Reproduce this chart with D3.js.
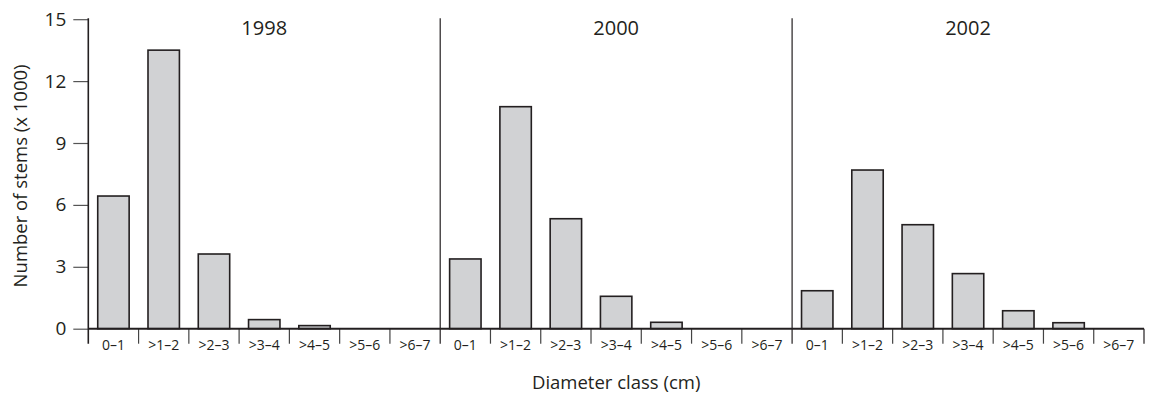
<!DOCTYPE html>
<html>
<head>
  <meta charset="utf-8">
  <title>Number of stems by diameter class</title>
  <style>
    body { margin: 0; background: #fff; }
    text { font-family: "Open Sans", "Noto Sans", sans-serif; fill: #231f20; }
  </style>
</head>
<body>
  <script src="https://cdn.jsdelivr.net/npm/d3@7"></script>
  <script>
    // data (stems x 1000)
    var years = ["1998", "2000", "2002"];
    var classes = ["0–1", ">1–2", ">2–3", ">3–4", ">4–5", ">5–6", ">6–7"];
    var stems1998 = [6.43, 13.5, 3.62, 0.44, 0.15, 0, 0];
    var stems2000 = [3.38, 10.76, 5.33, 1.57, 0.31, 0, 0];
    var stems2002 = [1.84, 7.69, 5.04, 2.67, 0.87, 0.29, 0];
    var yTicks = [0, 3, 6, 9, 12, 15];

    var width = 1149;
    var height = 398;
    var plotLeft = 88.3, plotRight = 1144;
    var plotTop = 19.2, plotBottom = 328.7;
    var ink = "#231f20";

    var series = [stems1998, stems2000, stems2002];
    var data = [];
    years.forEach(function(yr, i) {
      classes.forEach(function(c, j) {
        data.push({ year: yr, cls: c, value: series[i][j] });
      });
    });

    // scales: outer band per year panel, inner band per diameter class
    var xYear = d3.scaleBand().domain(years).range([plotLeft, plotRight]).padding(0);
    var xClass = d3.scaleBand().domain(classes).range([0, xYear.bandwidth()])
      .paddingInner(0.375).paddingOuter(0.1875);
    var y = d3.scaleLinear().domain([0, 15]).range([plotBottom, plotTop]);

    var svg = d3.select("body").append("svg")
      .attr("width", width)
      .attr("height", height);

    // y axis ticks + labels
    var yAxis = d3.axisLeft(y).tickValues(yTicks).tickSize(15).tickPadding(7).tickSizeOuter(0);
    var gy = svg.append("g")
      .attr("transform", "translate(" + plotLeft + ",0)")
      .call(yAxis);
    gy.select(".domain").remove();
    gy.selectAll(".tick line").attr("stroke", "#555").attr("stroke-width", 1.2);
    gy.selectAll(".tick text")
      .attr("font-size", "19px")
      .attr("fill", ink)
      .style("font-family", "'Open Sans', sans-serif");

    // class boundary ticks below baseline
    var panels = svg.selectAll(".panel")
      .data(years)
      .enter().append("g")
      .attr("class", "panel")
      .attr("transform", function(d) { return "translate(" + xYear(d) + ",0)"; });

    panels.selectAll(".sep")
      .data(d3.range(1, classes.length))
      .enter().append("line")
      .attr("x1", function(k) { return k * xClass.step(); })
      .attr("x2", function(k) { return k * xClass.step(); })
      .attr("y1", plotBottom)
      .attr("y2", plotBottom + 15)
      .attr("stroke", "#444")
      .attr("stroke-width", 1.2);

    // panel boundaries (full height, incl. y axis)
    var bounds = years.map(function(d) { return xYear(d); }).concat([plotRight]);
    svg.selectAll(".bound")
      .data(bounds)
      .enter().append("line")
      .attr("x1", function(d) { return d; })
      .attr("x2", function(d) { return d; })
      .attr("y1", function(d, i) { return (i === bounds.length - 1) ? plotBottom : plotTop - 1; })
      .attr("y2", plotBottom + 15)
      .attr("stroke", ink)
      .attr("stroke-width", function(d, i) { return i === 0 ? 1.6 : 1.2; });

    // bars
    svg.selectAll(".bar")
      .data(data.filter(function(d) { return d.value > 0; }))
      .enter().append("rect")
      .attr("class", "bar")
      .attr("x", function(d) { return xYear(d.year) + xClass(d.cls); })
      .attr("y", function(d) { return y(d.value); })
      .attr("width", xClass.bandwidth())
      .attr("height", function(d) { return y(0) - y(d.value); })
      .attr("fill", "#d1d2d4")
      .attr("stroke", ink)
      .attr("stroke-width", 1.6);

    // baseline
    svg.append("line")
      .attr("x1", plotLeft).attr("x2", plotRight)
      .attr("y1", y(0)).attr("y2", y(0))
      .attr("stroke", ink)
      .attr("stroke-width", 2);

    // class labels
    panels.selectAll(".cls")
      .data(classes)
      .enter().append("text")
      .attr("x", function(d) { return xClass(d) + xClass.bandwidth() / 2; })
      .attr("y", plotBottom + 21.5)
      .attr("text-anchor", "middle")
      .attr("font-size", "14px")
      .text(function(d) { return d; });

    // panel titles
    panels.append("text")
      .attr("x", xYear.bandwidth() / 2)
      .attr("y", 35)
      .attr("text-anchor", "middle")
      .attr("font-size", "20px")
      .text(function(d) { return d; });

    // axis titles
    svg.append("text")
      .attr("x", (plotLeft + plotRight) / 2)
      .attr("y", 389)
      .attr("text-anchor", "middle")
      .attr("font-size", "18.5px")
      .text("Diameter class (cm)");

    svg.append("text")
      .attr("transform", "rotate(-90)")
      .attr("x", -(plotTop + plotBottom) / 2 - 2)
      .attr("y", 27)
      .attr("text-anchor", "middle")
      .attr("font-size", "18.5px")
      .text("Number of stems (x 1000)");
  </script>
</body>
</html>
